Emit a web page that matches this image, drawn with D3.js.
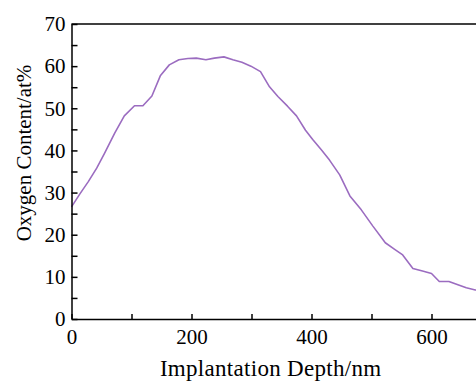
<!DOCTYPE html>
<html>
<head>
<meta charset="utf-8">
<script src="https://cdn.jsdelivr.net/npm/d3@7"></script>
<style>
  body { margin: 0; background: #fff; }
  svg { display: block; font-family: "Liberation Serif", "Times New Roman", serif; }
</style>
</head>
<body>
<div id="chart"></div>
<script>
// implantation depth (nm) and oxygen content (at%)
const depth = [0, 14, 28, 42, 55, 72, 88, 105, 119, 134, 148, 163, 179, 194, 208, 224, 238, 254, 269, 284,
    299, 315, 330, 344, 360, 375, 390, 402, 416, 430, 447, 464, 483, 502, 523, 538, 552, 569, 585, 600,
    613, 629, 644, 658, 673, 690];
const oxygen = [26.6, 29.7, 32.6, 35.8, 39.3, 44.1, 48.2, 50.6, 50.6, 52.9, 57.7, 60.3, 61.5, 61.8, 61.9, 61.5, 61.9, 62.2, 61.5, 60.9,
    60.0, 58.7, 55.1, 52.8, 50.5, 48.2, 44.8, 42.6, 40.2, 37.7, 34.2, 29.2, 25.9, 22.1, 18.1, 16.6, 15.2, 12.0, 11.4, 10.8,
    8.9, 8.9, 8.1, 7.4, 6.9, 6.5];
const xTicks = [0, 100, 200, 300, 400, 500, 600, 700];
const yTicks = [0, 5, 10, 15, 20, 25, 30, 35, 40, 45, 50, 55, 60, 65, 70];

const width = 476, height = 383;
const margin = {top: 24, left: 71.5, bottom: 64};

const svg = d3.select("#chart").append("svg")
    .attr("width", width)
    .attr("height", height);

const x = d3.scaleLinear().domain([0, 700]).range([margin.left, margin.left + 420]);
const y = d3.scaleLinear().domain([0, 70]).range([height - margin.bottom, margin.top]);

// data line
const line = d3.line()
    .x((d, i) => x(depth[i]))
    .y(d => y(d));

svg.append("path")
    .datum(oxygen)
    .attr("fill", "none")
    .attr("stroke", "#9b6cc0")
    .attr("stroke-width", 1.6)
    .attr("stroke-linejoin", "round")
    .attr("d", line);

// top frame line
svg.append("line")
    .attr("x1", x(0)).attr("x2", x(700))
    .attr("y1", y(70)).attr("y2", y(70))
    .attr("stroke", "#000")
    .attr("stroke-width", 1.5);

// axes, ticks point inward
const yAxis = d3.axisLeft(y)
    .tickValues(yTicks)
    .tickSizeInner(-6)
    .tickSizeOuter(0)
    .tickPadding(6)
    .tickFormat(d => d % 10 === 0 ? d : "");

const xAxis = d3.axisBottom(x)
    .tickValues(xTicks)
    .tickSizeInner(-5)
    .tickSizeOuter(0)
    .tickPadding(10)
    .tickFormat(d => d % 200 === 0 ? d : "");

const gx = svg.append("g")
    .attr("transform", `translate(0,${y(0)})`)
    .call(xAxis);

const gy = svg.append("g")
    .attr("transform", `translate(${x(0)},0)`)
    .call(yAxis);

[gx, gy].forEach(g => {
    g.select(".domain").attr("stroke", "#000").attr("stroke-width", 1.5);
    g.selectAll(".tick line").attr("stroke", "#000").attr("stroke-width", 1.5);
    g.selectAll(".tick text")
        .attr("fill", "#000")
        .style("font-family", "Liberation Serif")
        .style("font-size", "21px");
});

// axis titles
svg.append("text")
    .attr("x", x(332))
    .attr("y", 376)
    .attr("text-anchor", "middle")
    .style("font-size", "23px")
    .style("letter-spacing", "0.3px")
    .text("Implantation Depth/nm");

svg.append("text")
    .attr("transform", "translate(31,153) rotate(-90)")
    .attr("text-anchor", "middle")
    .style("font-size", "21px")
    .text("Oxygen Content/at%");
</script>
</body>
</html>
